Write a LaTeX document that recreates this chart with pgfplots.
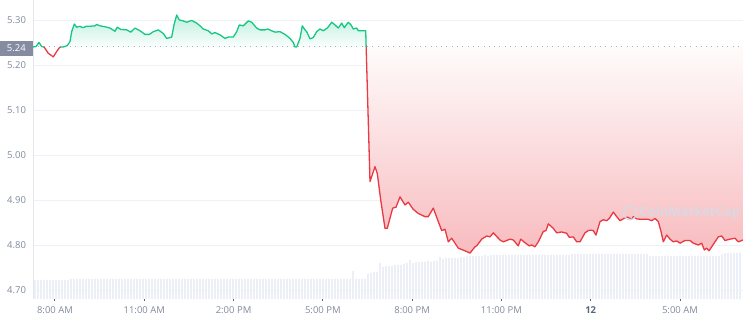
\documentclass[border=0pt]{standalone}
\usepackage{fontspec}
\setmainfont{Open Sans}
\usepackage{pgfplots}
\pgfplotsset{compat=1.18}
\usepackage{pgfplotstable}
\definecolor{cmcgreen}{HTML}{16C784}
\definecolor{cmcred}{HTML}{EA3943}
\definecolor{gridc}{HTML}{EFF2F5}
\definecolor{axc}{HTML}{E3E6EC}
\definecolor{labc}{HTML}{808A9D}
\definecolor{darkc}{HTML}{58667E}
\definecolor{barc}{HTML}{C9D1E2}
\definecolor{boxc}{HTML}{858CA2}
\definecolor{dotc}{HTML}{A6B0C3}
\definecolor{wmc}{HTML}{D5DBE6}

% volume bars (one per interval)
\pgfplotstableread[row sep=\\]{
v\\
19\\19\\19\\19\\19\\19\\19\\19\\19\\19\\
19\\19\\20\\20\\20\\20\\20\\20\\20\\20\\
20\\20\\20\\20\\20\\20\\20\\20\\20\\20\\
20\\20\\20\\20\\20\\20\\20\\20\\20\\20\\
20\\20\\20\\20\\20\\20\\20\\20\\20\\20\\
20\\20\\20\\20\\20\\20\\20\\20\\20\\20\\
20\\20\\20\\20\\20\\20\\20\\20\\20\\20\\
20\\20\\20\\20\\20\\20\\20\\20\\20\\20\\
20\\20\\20\\20\\20\\20\\20\\20\\20\\20\\
20\\20\\20\\20\\20\\20\\20\\20\\20\\20\\
20\\20\\20\\20\\20\\20\\28\\20\\20\\20\\
20\\25\\26\\27\\27\\36\\32\\33\\33\\33\\
34\\34\\34\\35\\36\\39\\36\\37\\37\\37\\
37\\38\\37\\38\\38\\42\\40\\41\\41\\41\\
41\\41\\42\\42\\43\\43\\43\\43\\43\\43\\
44\\43\\44\\44\\44\\44\\44\\44\\44\\44\\
44\\44\\44\\44\\44\\44\\44\\44\\44\\44\\
44\\44\\44\\44\\44\\44\\44\\44\\44\\45\\
45\\45\\45\\45\\45\\45\\45\\45\\45\\45\\
45\\45\\45\\45\\45\\45\\45\\45\\45\\45\\
45\\45\\45\\45\\45\\43\\43\\43\\43\\43\\
43\\43\\43\\43\\43\\43\\43\\43\\43\\43\\
43\\43\\43\\43\\43\\43\\43\\43\\43\\45\\
46\\46\\46\\46\\46\\46\\
}\vol

\pgfplotstableread{
h p
7.261 5.240
7.362 5.241
7.462 5.250
7.553 5.241
7.620 5.240
}\greenA

\pgfplotstableread{
h p
7.620 5.240
7.664 5.237
7.775 5.226
7.943 5.218
8.057 5.230
8.144 5.238
8.190 5.240
}\redA

\pgfplotstableread{
h p
8.190 5.240
8.279 5.240
8.413 5.243
8.504 5.252
8.561 5.274
8.648 5.291
8.729 5.284
8.840 5.286
8.931 5.283
9.065 5.286
9.176 5.286
9.344 5.287
9.401 5.290
9.512 5.287
9.680 5.285
9.848 5.282
10.016 5.275
10.093 5.284
10.208 5.279
10.409 5.278
10.544 5.273
10.688 5.282
10.856 5.276
11.024 5.268
11.168 5.268
11.303 5.274
11.471 5.278
11.639 5.270
11.753 5.259
11.921 5.262
11.998 5.289
12.089 5.311
12.176 5.300
12.311 5.298
12.425 5.295
12.593 5.299
12.761 5.293
12.872 5.287
12.983 5.280
13.151 5.276
13.265 5.269
13.376 5.272
13.544 5.267
13.712 5.259
13.823 5.262
13.991 5.262
14.105 5.274
14.192 5.289
14.327 5.287
14.495 5.298
14.609 5.295
14.777 5.282
14.888 5.278
15.056 5.278
15.147 5.280
15.281 5.276
15.392 5.273
15.560 5.274
15.728 5.268
15.896 5.259
16.007 5.250
16.064 5.240
16.121 5.240
16.232 5.259
16.309 5.287
16.400 5.278
16.457 5.274
16.568 5.258
16.679 5.261
16.793 5.274
16.904 5.280
17.015 5.276
17.163 5.283
17.297 5.295
17.408 5.289
17.519 5.282
17.633 5.293
17.720 5.283
17.855 5.295
17.946 5.289
18.023 5.280
18.137 5.282
18.191 5.276
18.359 5.276
18.440 5.276
18.455 5.240
}\greenB

\pgfplotstableread{
h p
18.455 5.240
18.584 4.941
18.752 4.974
18.829 4.959
18.944 4.900
19.088 4.837
19.165 4.837
19.347 4.882
19.458 4.884
19.592 4.907
19.760 4.889
19.871 4.895
20.039 4.879
20.207 4.870
20.432 4.863
20.543 4.863
20.711 4.882
20.879 4.852
20.993 4.832
21.104 4.835
21.215 4.807
21.329 4.815
21.551 4.793
21.776 4.787
21.944 4.782
22.112 4.796
22.169 4.798
22.337 4.813
22.505 4.820
22.616 4.818
22.727 4.827
22.952 4.811
23.063 4.807
23.288 4.813
23.399 4.811
23.567 4.798
23.648 4.813
23.792 4.805
23.936 4.798
24.017 4.800
24.128 4.796
24.239 4.807
24.407 4.830
24.498 4.832
24.575 4.847
24.743 4.837
24.857 4.827
25.025 4.829
25.193 4.826
25.280 4.817
25.415 4.818
25.529 4.807
25.640 4.807
25.808 4.827
25.919 4.832
26.000 4.833
26.087 4.832
26.178 4.822
26.312 4.852
26.423 4.856
26.537 4.854
26.624 4.859
26.759 4.873
26.873 4.863
26.984 4.854
27.118 4.859
27.229 4.862
27.377 4.857
27.431 4.863
27.545 4.858
27.713 4.857
27.935 4.857
28.049 4.854
28.160 4.859
28.271 4.852
28.362 4.830
28.439 4.807
28.553 4.822
28.664 4.813
28.775 4.807
28.889 4.809
29.000 4.804
29.168 4.810
29.336 4.810
29.447 4.804
29.615 4.800
29.729 4.804
29.817 4.789
29.897 4.793
29.974 4.787
30.065 4.796
30.176 4.807
30.287 4.818
30.401 4.820
30.512 4.810
30.680 4.813
30.848 4.815
30.959 4.807
31.073 4.810
31.117 4.811
}\redB

\begin{document}
\begin{tikzpicture}
\useasboundingbox (-33pt,-21pt) rectangle (710pt,299pt);
% volume axis
\begin{axis}[at={(0,0)}, anchor=south west, scale only axis,
  width=710pt, height=299pt,
  xmin=-0.667, xmax=236, ymin=0, ymax=299, hide axis]
\addplot[ybar, bar width=0.9pt, fill=barc, draw=none] table[x expr=\coordindex, y=v]{\vol};
\end{axis}
% price axis
\begin{axis}[at={(0,0)}, anchor=south west, scale only axis,
  width=710pt, height=299pt,
  xmin=7.261, xmax=31.117, ymin=4.68, ymax=5.3444,
  clip mode=individual,
  axis line style={draw=none},
  ymajorgrids, grid style={draw=gridc, line width=0.8pt},
  ytick={4.7,4.8,4.9,5.0,5.1,5.2,5.3},
  yticklabels={4.70,4.80,4.90,5.00,5.10,5.20,5.30},
  xtick={8,11,14,17,20,23,26,29},
  xticklabels={8:00 AM,11:00 AM,2:00 PM,5:00 PM,8:00 PM,11:00 PM,{\textcolor{darkc}{\bfseries 12}},5:00 AM},
  xtick pos=left, ytick pos=left,
  tick align=outside, major tick length=2.5pt,
  xtick style={draw=darkc, line width=1pt},
  ytick style={draw=none},
  xticklabel style={font=\fontsize{9.5}{11}\selectfont, text=labc, yshift=-2pt},
  yticklabel style={font=\fontsize{9.5}{11}\selectfont, text=labc, xshift=-1pt},
]
\draw[axc, line width=0.8pt] (rel axis cs:0,0) -- (rel axis cs:0,1);
% fills
\addplot[draw=none, top color=cmcgreen!28!white, bottom color=cmcgreen!2!white] table[x=h,y=p]{\greenB};
\addplot[draw=none, top color=cmcgreen!12!white, bottom color=white] table[x=h,y=p]{\greenA};
\addplot[draw=none, top color=cmcred!2!white, bottom color=cmcred!34!white] table[x=h,y=p]{\redB} -- (axis cs:31.117,5.24) -- cycle;
% baseline
\addplot[dotc, line width=1pt, dash pattern=on 1pt off 4.3pt] coordinates {(7.261,5.24) (31.117,5.24)};
% lines
\addplot[cmcgreen, line width=1.3pt, line join=round] table[x=h,y=p]{\greenA};
\addplot[cmcred, line width=1.3pt, line join=round] table[x=h,y=p]{\redA};
\addplot[cmcgreen, line width=1.3pt, line join=round] table[x=h,y=p]{\greenB};
\addplot[cmcred, line width=1.3pt, line join=round] table[x=h,y=p]{\redB};
% watermark
\node[text=wmc, font=\fontsize{13}{13}\selectfont\bfseries, opacity=0.85] at (axis cs:29.33,4.871) {CoinMarketCap};
\node[circle, draw=wmc, line width=1.6pt, minimum size=13pt, inner sep=0pt, opacity=0.85] at (axis cs:27.32,4.871) {};
% current value box
\node[fill=boxc, text=white, anchor=east, minimum width=33pt, minimum height=15pt, inner sep=0pt,
  font=\fontsize{9.5}{11}\selectfont, yshift=-1.5pt] at (axis cs:7.261,5.24) {5.24};
\end{axis}
\end{tikzpicture}
\end{document}
